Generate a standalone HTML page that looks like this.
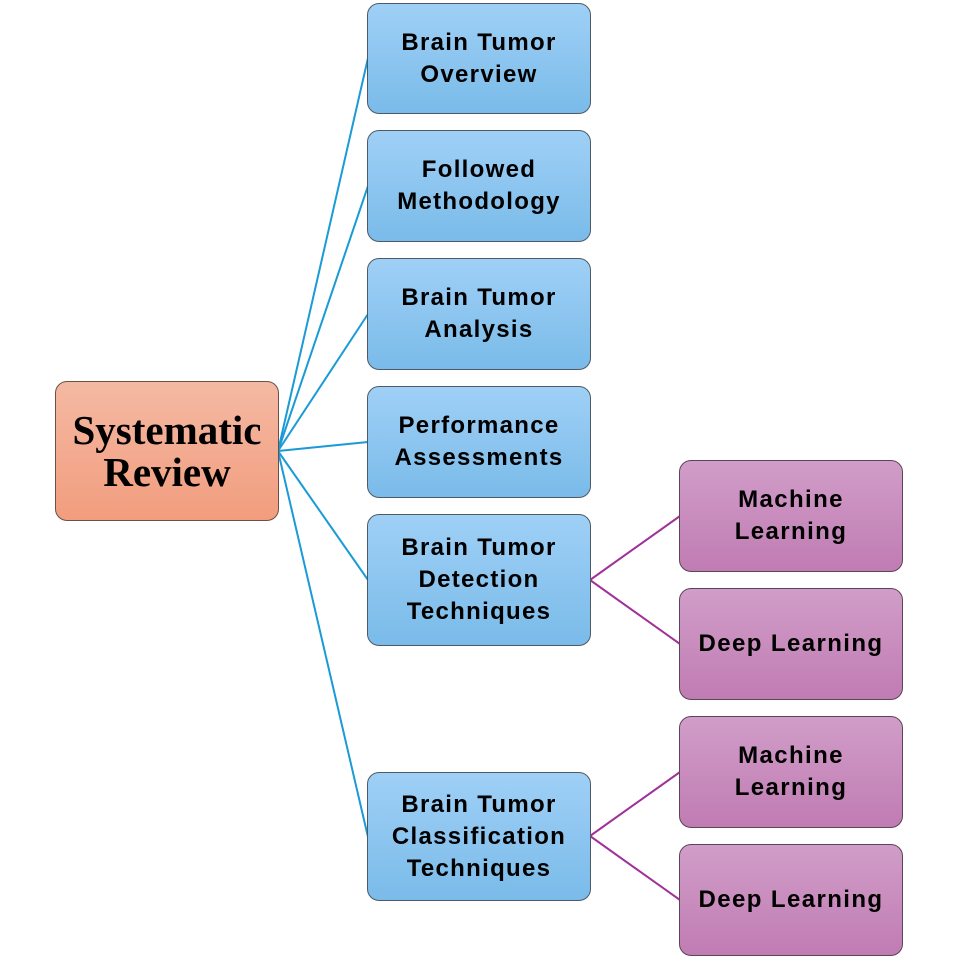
<!DOCTYPE html>
<html>
<head>
<meta charset="utf-8">
<style>
html,body{margin:0;padding:0;background:#fff;}
body{width:958px;height:959px;position:relative;overflow:hidden;}
svg{position:absolute;left:0;top:0;}
.box{position:absolute;box-sizing:border-box;border:1.3px solid #4d5a66;border-radius:12px;display:flex;align-items:center;justify-content:center;text-align:center;color:#000;}
.blue{background:linear-gradient(to bottom,#9fd0f6,#7abbe9);font-family:"Liberation Sans",sans-serif;font-weight:bold;font-size:24px;line-height:32px;letter-spacing:1.3px;}
.purple{background:linear-gradient(to bottom,#d19dc8,#c07cb3);border-color:#5a4656;font-family:"Liberation Sans",sans-serif;font-weight:bold;font-size:24px;line-height:32px;letter-spacing:1.4px;}
.main{background:linear-gradient(to bottom,#f4b9a3,#f29d7e);border-color:#6b5048;font-family:"Liberation Serif",serif;font-weight:bold;font-size:41px;line-height:42px;}
</style>
</head>
<body>
<svg width="958" height="959">
<g stroke="#1a9ad6" stroke-width="2" fill="none">
<line x1="278" y1="451" x2="368" y2="58"/>
<line x1="278" y1="451" x2="368" y2="186"/>
<line x1="278" y1="451" x2="368" y2="314"/>
<line x1="278" y1="451" x2="368" y2="442"/>
<line x1="278" y1="451" x2="368" y2="580"/>
<line x1="278" y1="451" x2="368" y2="837"/>
</g>
<g stroke="#a0329a" stroke-width="2" fill="none">
<line x1="590" y1="580" x2="680" y2="516"/>
<line x1="590" y1="580" x2="680" y2="644"/>
<line x1="590" y1="836" x2="680" y2="772"/>
<line x1="590" y1="836" x2="680" y2="900"/>
</g>
</svg>

<div class="box main" style="left:55px;top:381px;width:224px;height:140px;">Systematic<br>Review</div>

<div class="box blue" style="left:367px;top:3px;width:224px;height:111px;">Brain Tumor<br>Overview</div>
<div class="box blue" style="left:367px;top:130px;width:224px;height:112px;">Followed<br>Methodology</div>
<div class="box blue" style="left:367px;top:258px;width:224px;height:112px;">Brain Tumor<br>Analysis</div>
<div class="box blue" style="left:367px;top:386px;width:224px;height:112px;">Performance<br>Assessments</div>
<div class="box blue" style="left:367px;top:514px;width:224px;height:132px;">Brain Tumor<br>Detection<br>Techniques</div>
<div class="box blue" style="left:367px;top:772px;width:224px;height:129px;">Brain Tumor<br>Classification<br>Techniques</div>

<div class="box purple" style="left:679px;top:460px;width:224px;height:112px;">Machine<br>Learning</div>
<div class="box purple" style="left:679px;top:588px;width:224px;height:112px;">Deep Learning</div>
<div class="box purple" style="left:679px;top:716px;width:224px;height:112px;">Machine<br>Learning</div>
<div class="box purple" style="left:679px;top:844px;width:224px;height:112px;">Deep Learning</div>
</body>
</html>
